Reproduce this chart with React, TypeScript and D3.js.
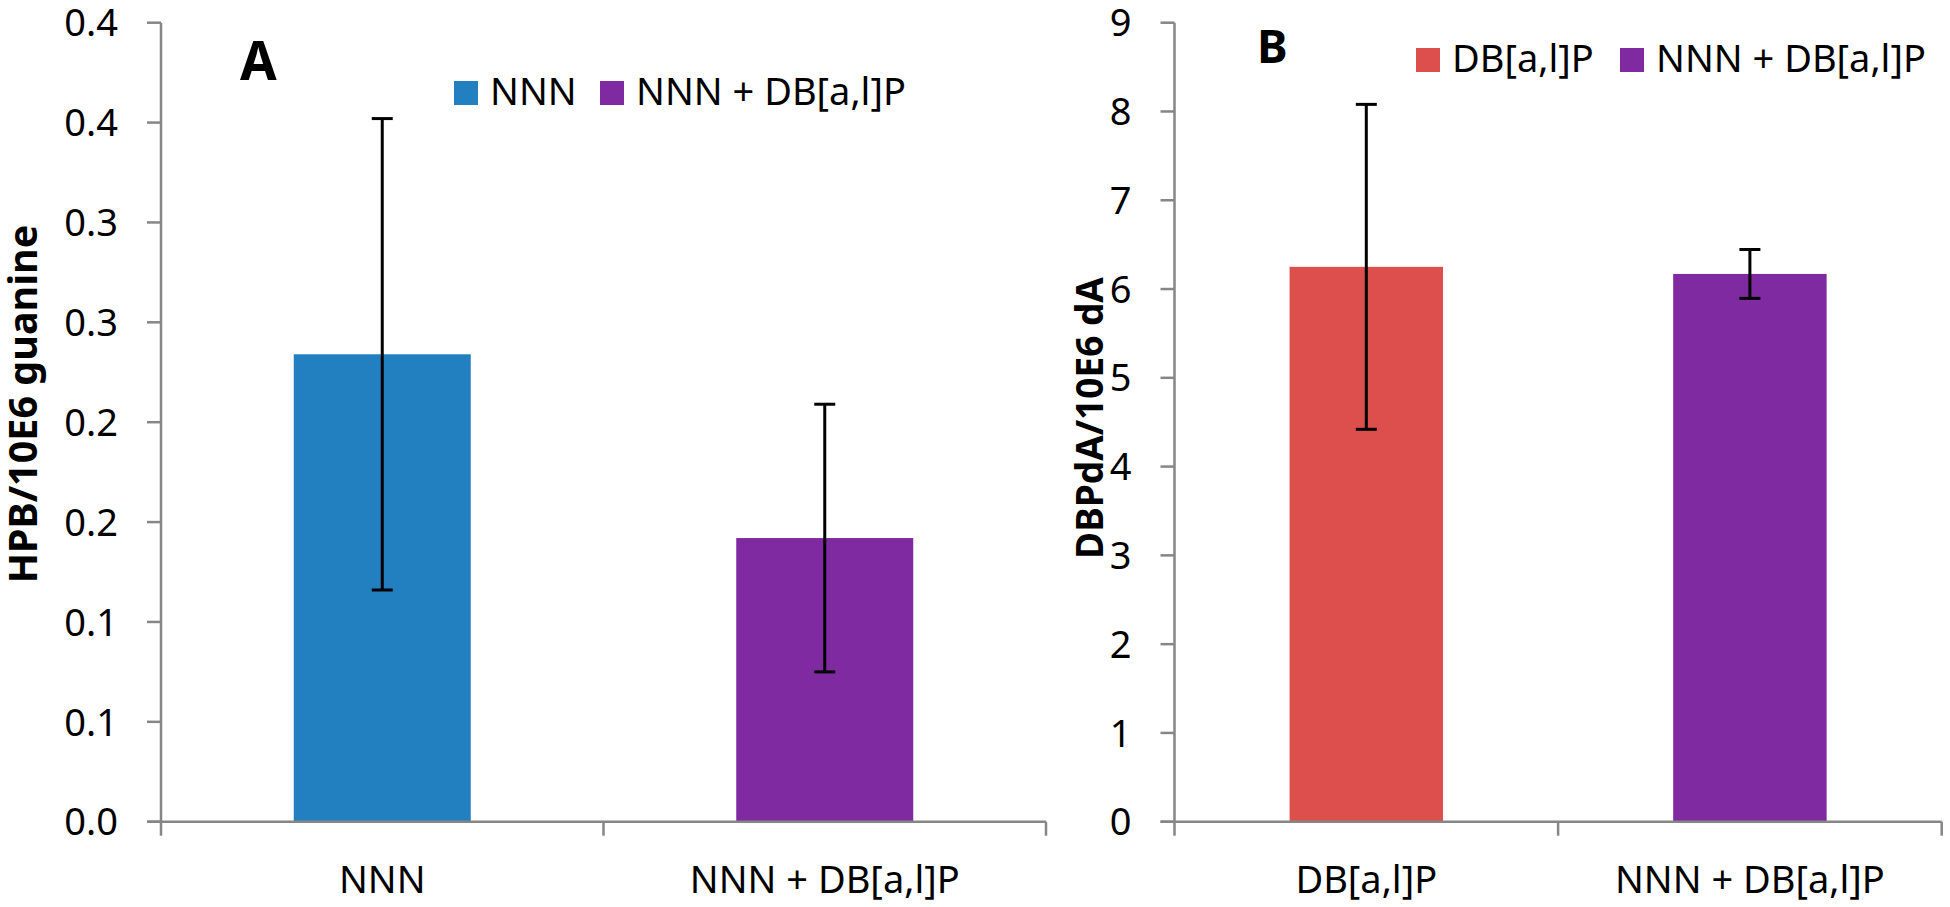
import React from "react";
import * as d3 from "d3";

// Panel A: HPB adducts
const categoriesA = ["NNN", "NNN + DB[a,l]P"];
const valuesA = [0.234, 0.142];
const errorsA = [0.118, 0.067];
const ticksA = [0, 0.05, 0.1, 0.15, 0.2, 0.25, 0.3, 0.35, 0.4];
const tickLabelsA = ["0.0", "0.1", "0.1", "0.2", "0.2", "0.3", "0.3", "0.4", "0.4"];
const colorsA = ["#2280c0", "#7f2aa0"];

// Panel B: DBPdA adducts
const categoriesB = ["DB[a,l]P", "NNN + DB[a,l]P"];
const valuesB = [6.25, 6.17];
const errorsB = [1.83, 0.275];
const ticksB = [0, 1, 2, 3, 4, 5, 6, 7, 8, 9];
const tickLabelsB = ["0", "1", "2", "3", "4", "5", "6", "7", "8", "9"];
const colorsB = ["#dc4f4d", "#7f2aa0"];

const FONT = "'Noto Sans', 'Open Sans', sans-serif";
const AXIS = "#868686";

type PanelProps = {
  categories: string[];
  values: number[];
  errors: number[];
  ticks: number[];
  tickLabels: string[];
  colors: string[];
  x0: number;
  x1: number;
  yMax: number;
  title: string;
  titleX: number;
  titleY: number;
  titleSize: number;
  yLabel: string;
  yLabelX: number;
  yLabelY: number;
  yLabelSize: number;
  legendX: number[];
  legendY: number;
};

function Panel(p: PanelProps) {
  const top = 22.7;
  const bottom = 821.7;

  const x = d3.scaleBand<string>()
    .domain(p.categories)
    .range([p.x0, p.x1])
    .paddingInner(0.6)
    .paddingOuter(0.3);
  const y = d3.scaleLinear().domain([0, p.yMax]).range([bottom, top]);

  const step = x.step();
  const catTicks = d3.range(p.categories.length + 1).map((i) => p.x0 + (i * (p.x1 - p.x0)) / p.categories.length);
  const cap = 10.5;

  return (
    <g fontFamily={FONT}>
      {p.values.map((v, i) => (
        <rect
          key={"bar" + i}
          x={x(p.categories[i])}
          y={y(v)}
          width={x.bandwidth()}
          height={bottom - y(v)}
          fill={p.colors[i]}
        />
      ))}

      {/* y axis */}
      <line x1={p.x0} x2={p.x0} y1={top} y2={bottom} stroke={AXIS} strokeWidth={2.5} />
      {p.ticks.map((t, i) => (
        <g key={"yt" + i}>
          <line x1={p.x0 - 14} x2={p.x0} y1={y(t)} y2={y(t)} stroke={AXIS} strokeWidth={2.5} />
          <text x={p.x0 - 43} y={y(t)} dy="0.36em" textAnchor="end" fontSize={38} fill="#000">
            {p.tickLabels[i]}
          </text>
        </g>
      ))}

      {/* x axis */}
      <line x1={p.x0 - 14} x2={p.x1} y1={bottom} y2={bottom} stroke={AXIS} strokeWidth={2.5} />
      {catTicks.map((cx, i) => (
        <line key={"xt" + i} x1={cx} x2={cx} y1={bottom} y2={bottom + 14} stroke={AXIS} strokeWidth={2.5} />
      ))}
      {p.categories.map((c) => (
        <text key={"xl" + c} x={(x(c) as number) + x.bandwidth() / 2} y={893} textAnchor="middle" fontSize={38} fill="#000">
          {c}
        </text>
      ))}

      {/* error bars */}
      {p.values.map((v, i) => {
        const cx = (x(p.categories[i]) as number) + x.bandwidth() / 2;
        const hi = y(v + p.errors[i]);
        const lo = y(v - p.errors[i]);
        return (
          <g key={"err" + i} stroke="#000" strokeWidth={3}>
            <line x1={cx} x2={cx} y1={hi} y2={lo} />
            <line x1={cx - cap} x2={cx + cap} y1={hi} y2={hi} />
            <line x1={cx - cap} x2={cx + cap} y1={lo} y2={lo} />
          </g>
        );
      })}

      {/* panel letter */}
      <text x={p.titleX} y={p.titleY} fontSize={p.titleSize} fontWeight="bold" fill="#000">
        {p.title}
      </text>

      {/* y axis title */}
      <text
        transform={`translate(${p.yLabelX},${p.yLabelY}) rotate(-90)`}
        textAnchor="middle"
        fontSize={p.yLabelSize}
        fontWeight="bold"
        fill="#000"
      >
        {p.yLabel}
      </text>

      {/* legend */}
      {p.categories.map((c, i) => (
        <g key={"lg" + i}>
          <rect x={p.legendX[i]} y={p.legendY - 24} width={24} height={24} fill={p.colors[i]} />
          <text x={p.legendX[i] + 36} y={p.legendY} fontSize={38} fill="#000">
            {c}
          </text>
        </g>
      ))}
      {step > 0 ? null : null}
    </g>
  );
}

export default function App() {
  return (
    <div style={{ position: "absolute", left: 0, top: 0 }}>
      <svg width={1950} height={907} style={{ display: "block", background: "#fff" }}>
        <Panel
          categories={categoriesA}
          values={valuesA}
          errors={errorsA}
          ticks={ticksA}
          tickLabels={tickLabelsA}
          colors={colorsA}
          x0={161}
          x1={1046}
          yMax={0.4}
          title="A"
          titleX={240}
          titleY={80}
          titleSize={53}
          yLabel="HPB/10E6 guanine"
          yLabelX={37}
          yLabelY={404}
          yLabelSize={39.5}
          legendX={[454, 600]}
          legendY={105}
        />
        <Panel
          categories={categoriesB}
          values={valuesB}
          errors={errorsB}
          ticks={ticksB}
          tickLabels={tickLabelsB}
          colors={colorsB}
          x0={1174.5}
          x1={1941.7}
          yMax={9}
          title="B"
          titleX={1257}
          titleY={62.7}
          titleSize={46}
          yLabel="DBPdA/10E6 dA"
          yLabelX={1103}
          yLabelY={418}
          yLabelSize={37}
          legendX={[1416, 1620]}
          legendY={72}
        />
      </svg>
    </div>
  );
}
